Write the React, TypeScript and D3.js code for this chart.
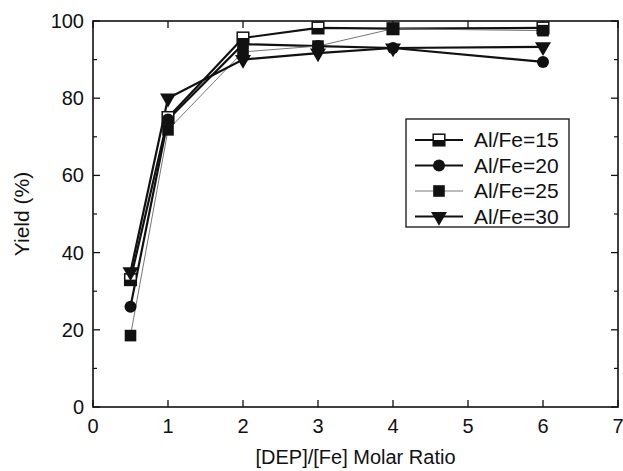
import React from 'react';
import * as d3 from 'd3';

const ratios = [0.5, 1, 2, 3, 4, 6];
const alFe15 = [33, 75, 95.6, 98.2, 98, 98.2];
const alFe20 = [26, 74.5, 94, 93.5, 93, 89.4];
const alFe25 = [18.5, 71.8, 92, 93.5, 98, 97.5];
const alFe30 = [35, 80, 90, 91.7, 93, 93.3];
const seriesNames = ['Al/Fe=15', 'Al/Fe=20', 'Al/Fe=25', 'Al/Fe=30'];
const xTicks = [0, 1, 2, 3, 4, 5, 6, 7];
const yTicks = [0, 20, 40, 60, 80, 100];
const yMinor = [10, 30, 50, 70, 90];

const W = 623, H = 471;
const margin = { left: 93, right: 5, top: 21, bottom: 64 };
const font = 'Liberation Sans, Arial, sans-serif';

const x = d3.scaleLinear().domain([0, 7]).range([margin.left, W - margin.right]);
const y = d3.scaleLinear().domain([0, 100]).range([H - margin.bottom, margin.top]);

const series = [
  { name: seriesNames[0], values: alFe15, marker: 'half', width: 2.2, color: '#111' },
  { name: seriesNames[1], values: alFe20, marker: 'circle', width: 2.2, color: '#111' },
  { name: seriesNames[2], values: alFe25, marker: 'square', width: 1, color: '#777' },
  { name: seriesNames[3], values: alFe30, marker: 'tri', width: 2.2, color: '#111' },
];

function Marker({ type, cx, cy }: { type: string; cx: number; cy: number }) {
  const s = 5.8;
  if (type === 'circle') return <circle cx={cx} cy={cy} r={6} fill="#111" />;
  if (type === 'square') return <rect x={cx - s} y={cy - s} width={2 * s} height={2 * s} fill="#111" />;
  if (type === 'tri') {
    const p = d3.symbol().type(d3.symbolTriangle).size(110)();
    return <path d={p || ''} transform={`translate(${cx},${cy}) rotate(180)`} fill="#111" />;
  }
  return (
    <g>
      <rect x={cx - s} y={cy - s} width={2 * s} height={2 * s} fill="#fff" stroke="#111" strokeWidth={1.5} />
      <rect x={cx - s} y={cy} width={2 * s} height={s} fill="#111" />
    </g>
  );
}

export default function App() {
  const line = d3.line<number>().x((_, i) => x(ratios[i])).y((d) => y(d));
  const x0 = x(0), x1 = x(7), y0 = y(0), y1 = y(100);
  const legX = 406, legY = 119, legW = 163, legH = 108;

  return (
    <svg width={W} height={H} style={{ position: 'absolute', left: 0, top: 0, background: '#fff' }}>
      {/* ticks */}
      {xTicks.map((t) => (
        <g key={'xt' + t}>
          <line x1={x(t)} x2={x(t)} y1={y0} y2={y0 - 7} stroke="#111" strokeWidth={1.3} />
          <line x1={x(t)} x2={x(t)} y1={y1} y2={y1 + 7} stroke="#111" strokeWidth={1.3} />
          <text x={x(t)} y={y0 + 26} textAnchor="middle" fontFamily={font} fontSize={20} fill="#111">{t}</text>
        </g>
      ))}
      {yTicks.map((t) => (
        <g key={'yt' + t}>
          <line x1={x0} x2={x0 + 7} y1={y(t)} y2={y(t)} stroke="#111" strokeWidth={1.3} />
          <line x1={x1} x2={x1 - 7} y1={y(t)} y2={y(t)} stroke="#111" strokeWidth={1.3} />
          <text x={x0 - 9} y={y(t) + 7} textAnchor="end" fontFamily={font} fontSize={20} fill="#111">{t}</text>
        </g>
      ))}
      {yMinor.map((t) => (
        <g key={'ym' + t}>
          <line x1={x0} x2={x0 + 4} y1={y(t)} y2={y(t)} stroke="#111" strokeWidth={1.2} />
          <line x1={x1} x2={x1 - 4} y1={y(t)} y2={y(t)} stroke="#111" strokeWidth={1.2} />
        </g>
      ))}
      <rect x={x0} y={y1} width={x1 - x0} height={y0 - y1} fill="none" stroke="#111" strokeWidth={1.6} />

      {/* lines */}
      {series.map((s) => (
        <path key={s.name} d={line(s.values) || ''} fill="none" stroke={s.color} strokeWidth={s.width} />
      ))}
      {series.map((s) =>
        s.values.map((v, i) => <Marker key={s.name + i} type={s.marker} cx={x(ratios[i])} cy={y(v)} />)
      )}

      {/* legend */}
      <rect x={legX} y={legY} width={legW} height={legH} fill="#fff" stroke="#111" strokeWidth={1.3} />
      {series.map((s, i) => {
        const ly = legY + 21 + i * 25.5;
        return (
          <g key={'lg' + s.name}>
            <line x1={legX + 9} x2={legX + 57} y1={ly} y2={ly} stroke={s.color} strokeWidth={s.width} />
            <Marker type={s.marker} cx={legX + 33} cy={ly} />
            <text x={legX + 68} y={ly + 7} fontFamily={font} fontSize={21} fill="#111">{s.name}</text>
          </g>
        );
      })}

      {/* titles */}
      <text x={(x0 + x1) / 2} y={H - 7} textAnchor="middle" fontFamily={font} fontSize={20} fill="#111">
        [DEP]/[Fe] Molar Ratio
      </text>
      <text transform={`translate(29,${(y0 + y1) / 2}) rotate(-90)`} textAnchor="middle" fontFamily={font} fontSize={21} fill="#111">
        Yield (%)
      </text>
    </svg>
  );
}
